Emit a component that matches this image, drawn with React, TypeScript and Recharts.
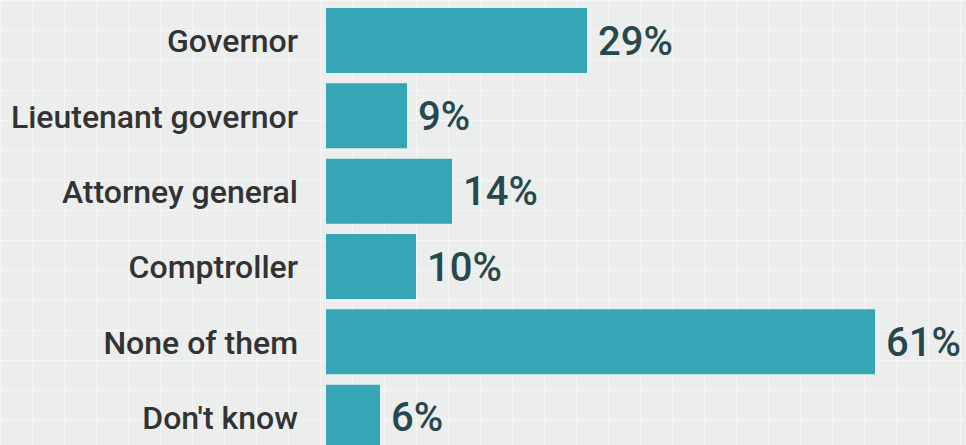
import { BarChart, Bar, XAxis, YAxis, LabelList } from "recharts";

const categories = [
  "Governor",
  "Lieutenant governor",
  "Attorney general",
  "Comptroller",
  "None of them",
  "Don't know",
];
const shares = [29, 9, 14, 10, 61, 6];

const data = categories.map((name, i) => ({ name, share: shares[i] }));

const FONT = "Roboto, 'Open Sans', sans-serif";

const CategoryTick = ({ x, y, payload }: any) => (
  <text
    x={x - 28}
    y={y}
    dy="0.36em"
    textAnchor="end"
    fill="#333333"
    fontFamily={FONT}
    fontWeight={500}
    fontSize={32}
  >
    {payload.value}
  </text>
);

export default function App() {
  return (
    <div
      style={{
        position: "fixed",
        top: 0,
        left: 0,
        width: 966,
        height: 445,
        overflow: "hidden",
        backgroundColor: "#eceeee",
        backgroundImage:
          "linear-gradient(rgba(255,255,255,0.4) 1px, transparent 1px), linear-gradient(90deg, rgba(255,255,255,0.4) 1px, transparent 1px)",
        backgroundSize: "32px 30px",
      }}
    >
      <BarChart
        width={966}
        height={458}
        data={data}
        layout="vertical"
        margin={{ top: 3, right: 10, bottom: 3, left: 0 }}
        barCategoryGap={5}
      >
        <XAxis type="number" domain={[0, 70]} hide />
        <YAxis
          type="category"
          dataKey="name"
          width={326}
          axisLine={false}
          tickLine={false}
          tickSize={0}
          tickMargin={0}
          interval={0}
          tick={<CategoryTick />}
        />
        <Bar dataKey="share" fill="#36a5b6" isAnimationActive={false}>
          <LabelList
            dataKey="share"
            position="right"
            offset={11}
            formatter={(v: any) => `${v}%`}
            fill="#28484d"
            fontFamily={FONT}
            fontWeight={500}
            fontSize={40}
          />
        </Bar>
      </BarChart>
    </div>
  );
}
